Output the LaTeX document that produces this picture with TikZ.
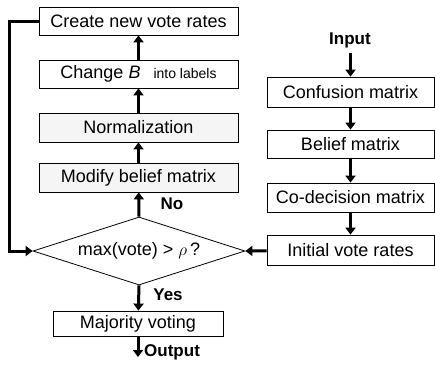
\documentclass[tikz,border=0pt]{standalone}
\usepackage{fontspec}
\setmainfont{Liberation Sans}
\usetikzlibrary{arrows.meta,shapes.geometric}

\begin{document}
\begin{tikzpicture}[
  x=1pt,y=-1pt,
  font=\fontsize{18}{20}\selectfont,
  box/.style={draw,line width=0.8pt,inner sep=0pt,minimum width=199pt,minimum height=28pt},
  gbox/.style={box,fill=black!4},
  rbox/.style={box,minimum width=167pt},
  decision/.style={diamond,draw,line width=0.8pt,inner sep=0pt,shape aspect=3.1,minimum width=212pt,minimum height=68pt},
  flow/.style={line width=3pt,-{Triangle[length=7pt,width=10pt]}},
  lbl/.style={font=\bfseries\fontsize{17}{19}\selectfont,inner sep=0pt}
]
  \useasboundingbox (0,0) rectangle (435,370);
  % left column
  \node[box] (create) at (138.5,21) {Create new vote rates};
  \node[box] (change) at (138.5,74) {Change \textit{B}\hspace{13pt}{\fontsize{14}{15}\selectfont into labels}};
  \node[gbox,minimum height=29pt] (norm) at (138.5,127.5) {Normalization};
  \node[gbox,minimum height=29pt] (modify) at (138.5,177.5) {Modify belief matrix};
  \node[decision] (dec) at (139,251) {max(vote) > $\rho$\,?};
  \node[box,minimum width=170pt,minimum height=25pt] (major) at (138,323.5) {Majority voting};
  \coordinate (out) at (138,357);
  % right column
  \node[lbl] (input) at (350,40) {Input};
  \node[rbox,minimum height=30pt] (conf) at (350.5,92) {Confusion matrix};
  \node[rbox] (belief) at (350.5,144) {Belief matrix};
  \node[rbox,minimum height=29pt] (codec) at (350.5,197.5) {Co-decision matrix};
  \node[rbox,minimum height=30pt] (init) at (350.5,250) {Initial vote rates};
  % connectors
  \draw[flow] (input.south -| conf.north) ++(0,5) -- (conf.north);
  \draw[flow] (conf) -- (belief);
  \draw[flow] (belief) -- (codec);
  \draw[flow] (codec) -- (init);
  \draw[flow] (init) -- (dec.east);
  \draw[flow] (dec.north) -- (modify);
  \draw[flow] (modify) -- (norm);
  \draw[flow] (norm) -- (change);
  \draw[flow] (change) -- (create);
  \draw[flow] (create.west) -- ++(-29,0) |- (dec.west);
  \draw[flow] (dec.south) -- (major);
  \draw[flow] (major) -- (out);
  \node[lbl] (no) at (172,204) {No};
  \node[lbl] (yes) at (168,295) {Yes};
  \node[lbl,anchor=west] (output) at (144,352) {Output};
\end{tikzpicture}
\end{document}
